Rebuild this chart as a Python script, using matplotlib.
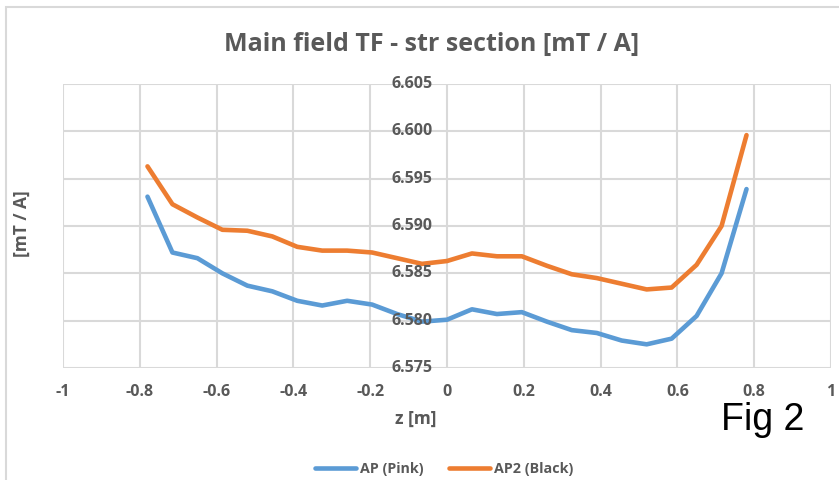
import matplotlib
matplotlib.use("Agg")
import matplotlib.pyplot as plt
from matplotlib.patches import Rectangle
from matplotlib.transforms import blended_transform_factory

z = [-0.78, -0.715, -0.65, -0.585, -0.52, -0.455, -0.39, -0.325, -0.26, -0.195,
     -0.13, -0.065, 0.0, 0.065, 0.13, 0.195, 0.26, 0.325, 0.39, 0.455,
     0.52, 0.585, 0.65, 0.715, 0.78]
ap_pink = [6.5931, 6.5872, 6.5866, 6.5850, 6.5837, 6.5831, 6.5821, 6.5816, 6.5821, 6.5817,
           6.5807, 6.5799, 6.5801, 6.5812, 6.5807, 6.5809, 6.5799, 6.5790, 6.5787, 6.5779,
           6.5775, 6.5781, 6.5805, 6.5850, 6.5939]
ap2_black = [6.5963, 6.5923, 6.5909, 6.5896, 6.5895, 6.5889, 6.5878, 6.5874, 6.5874, 6.5872,
             6.5866, 6.5860, 6.5863, 6.5871, 6.5868, 6.5868, 6.5858, 6.5849, 6.5845, 6.5839,
             6.5833, 6.5835, 6.5859, 6.5900, 6.5996]
x_ticks = [-1, -0.8, -0.6, -0.4, -0.2, 0, 0.2, 0.4, 0.6, 0.8, 1]
x_tick_labels = ["-1", "-0.8", "-0.6", "-0.4", "-0.2", "0", "0.2", "0.4", "0.6", "0.8", "1"]
y_ticks = [6.575, 6.580, 6.585, 6.590, 6.595, 6.600, 6.605]
y_tick_labels = ["6.575", "6.580", "6.585", "6.590", "6.595", "6.600", "6.605"]

W, H = 839, 480
fig = plt.figure(figsize=(W / 100, H / 100), dpi=100)
fig.patch.set_facecolor("white")
fig.patches.append(Rectangle((6 / W, -0.1), 2, 1.1 - 7 / H, transform=fig.transFigure,
                             fill=False, edgecolor="#D9D9D9", linewidth=1.5))

left, right, top, bottom = 63, 831, 84, 368
ax = fig.add_axes([left / W, 1 - bottom / H, (right - left) / W, (bottom - top) / H])
ax.set_xlim(-1, 1)
ax.set_ylim(6.575, 6.605)

grid_c = "#D9D9D9"
for s in ax.spines.values():
    s.set_visible(False)
ax.set_xticks(x_ticks)
ax.set_yticks(y_ticks)
ax.grid(True, color=grid_c, linewidth=1.5)
ax.set_axisbelow(True)
ax.tick_params(length=0, labelbottom=False, labelleft=False)

txt_c = "#595959"
font = "Open Sans"
for xv, lab in zip(x_ticks, x_tick_labels):
    ax.text(xv, -0.085, lab, transform=ax.get_xaxis_transform(), ha="center", va="center",
            fontsize=11.5, fontweight="bold", color=txt_c, family=font)
ytr = blended_transform_factory(ax.transData, ax.transData)
for yv, lab in zip(y_ticks, y_tick_labels):
    ax.text(-0.038, yv, lab, transform=ytr, ha="right", va="center",
            fontsize=11.5, fontweight="bold", color=txt_c, family=font)

l1, = ax.plot(z, ap_pink, color="#5B9BD5", linewidth=3.3, solid_capstyle="round", label="AP (Pink)")
l2, = ax.plot(z, ap2_black, color="#ED7D31", linewidth=3.3, solid_capstyle="round", label="AP2 (Black)")

fig.text(432 / W, 1 - 44 / H, "Main field TF - str section [mT / A]", ha="center", va="center",
         fontsize=18, fontweight="bold", color=txt_c, family=font)
fig.text(416 / W, 1 - 419 / H, "z [m]", ha="center", va="center",
         fontsize=12.5, fontweight="bold", color=txt_c, family=font)
fig.text(22 / W, 1 - 224 / H, "[mT / A]", ha="center", va="center", rotation=90,
         fontsize=12.5, fontweight="bold", color=txt_c, family=font)
fig.text(763 / W, 1 - 420 / H, "Fig 2", ha="center", va="center",
         fontsize=27, color="black", family="Liberation Sans")

leg = fig.legend(handles=[l1, l2], loc="center", bbox_to_anchor=(444 / W, 1 - 469 / H),
                 ncol=2, frameon=False, handlelength=2.9, columnspacing=1.8, handletextpad=0.25,
                 borderpad=0, prop={"family": font, "weight": "bold", "size": 10.3})
for t in leg.get_texts():
    t.set_color(txt_c)

fig.savefig("out.png", dpi=100)
